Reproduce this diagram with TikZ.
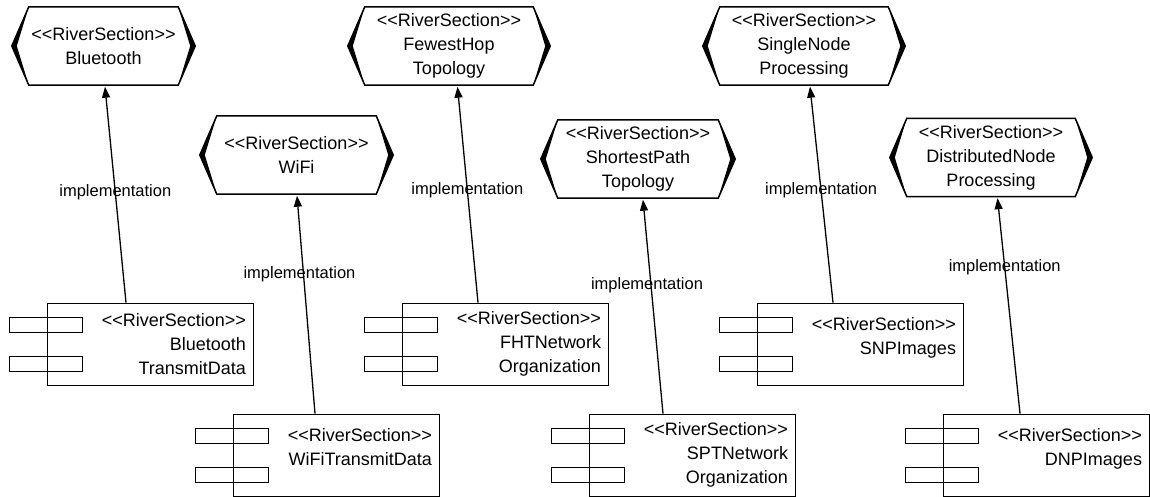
\documentclass[tikz,border=0pt]{standalone}
\usepackage{fontspec}
\setmainfont{Liberation Sans}
\usetikzlibrary{arrows.meta}
\begin{document}
\begin{tikzpicture}[x=1pt, y=-1pt,
		hexbox/.style={inner sep=0pt, minimum height=78pt, align=center, font=\fontsize{18}{24}\selectfont},
		compbox/.style={draw, line width=0.8pt, inner sep=7pt, text width=192pt, minimum height=82pt, align=right, font=\fontsize{18}{24}\selectfont},
		shortcomp/.style={compbox, text depth=40pt},
		implarrow/.style={line width=1.3pt, -{Triangle[length=11pt, width=8pt]}},
		impllabel/.style={font=\fontsize{16.5}{20}\selectfont}]
			\useasboundingbox (0,0) rectangle (1150,497);

			\node[hexbox, minimum width=149pt] at (103.5, 46) (bluetooth) {<{}<RiverSection>{}>\\Bluetooth};
			\node[hexbox, minimum width=159pt] at (296.5, 155) (wifi) {<{}<RiverSection>{}>\\WiFi};
			\node[hexbox, minimum width=168pt] at (449, 46) (fewesthop) {<{}<RiverSection>{}>\\FewestHop\\Topology};
			\node[hexbox, minimum width=160pt] at (638, 159) (shortestpath) {<{}<RiverSection>{}>\\ShortestPath\\Topology};
			\node[hexbox, minimum width=168pt] at (804, 46) (singlenode) {<{}<RiverSection>{}>\\SingleNode\\Processing};
			\node[hexbox, minimum width=168pt] at (991, 157.5) (distnode) {<{}<RiverSection>{}>\\DistributedNode\\Processing};

			\node[compbox] at (150, 344) (btdata) {<{}<RiverSection>{}>\\Bluetooth\\TransmitData};
			\node[shortcomp] at (336, 455) (wifidata) {<{}<RiverSection>{}>\\WiFiTransmitData};
			\node[compbox] at (505, 344) (fhtorg) {<{}<RiverSection>{}>\\FHTNetwork\\Organization};
			\node[compbox] at (692, 455) (sptorg) {<{}<RiverSection>{}>\\SPTNetwork\\Organization};
			\node[shortcomp] at (860, 344) (snpimg) {<{}<RiverSection>{}>\\SNPImages};
			\node[shortcomp] at (1046, 455) (dnpimg) {<{}<RiverSection>{}>\\DNPImages};

			% hexagon outlines with bold sides
			\foreach \h in {bluetooth, wifi, fewesthop, shortestpath, singlenode, distnode} {
				\draw[line width=1.5pt] (\h.north west) -- (\h.north east) -- ([xshift=17pt]\h.east) -- (\h.south east) -- (\h.south west) -- ([xshift=-17pt]\h.west) -- cycle;
				\fill (\h.north west) -- ([xshift=-17pt]\h.west) -- (\h.south west) -- ([xshift=-12pt]\h.west) -- cycle;
				\fill (\h.north east) -- ([xshift=17pt]\h.east) -- (\h.south east) -- ([xshift=12pt]\h.east) -- cycle;
			}

			% component ports
			\foreach \c in {btdata, wifidata, fhtorg, sptorg, snpimg, dnpimg} {
				\draw[line width=0.8pt] ([xshift=-37pt, yshift=-15pt]\c.north west) rectangle ([xshift=36pt, yshift=-30pt]\c.north west);
				\draw[line width=0.8pt] ([xshift=-37pt, yshift=-54pt]\c.north west) rectangle ([xshift=36pt, yshift=-69pt]\c.north west);
			}

			\path
			([xshift=-24pt]btdata.north) edge[implarrow] node[impllabel, pos=.51] {implementation} ([xshift=1.5pt, yshift=-1.5pt]bluetooth.south)
			([xshift=-21pt]wifidata.north) edge[implarrow] node[impllabel, pos=.64, xshift=-4pt] {implementation} ([xshift=0.5pt, yshift=-1.5pt]wifi.south)
			([xshift=-27pt]fhtorg.north) edge[implarrow] node[impllabel, pos=.52] {implementation} ([xshift=8.5pt, yshift=-1.5pt]fewesthop.south)
			([xshift=-29pt]sptorg.north) edge[implarrow] node[impllabel, pos=.6, xshift=-4pt] {implementation} ([xshift=5pt, yshift=-1.5pt]shortestpath.south)
			([xshift=-27pt]snpimg.north) edge[implarrow] node[impllabel, pos=.52] {implementation} ([xshift=6pt, yshift=-1.5pt]singlenode.south)
			([xshift=-26pt]dnpimg.north) edge[implarrow] node[impllabel, pos=.68] {implementation} ([xshift=6.5pt, yshift=-1.5pt]distnode.south);
		\end{tikzpicture}
\end{document}
